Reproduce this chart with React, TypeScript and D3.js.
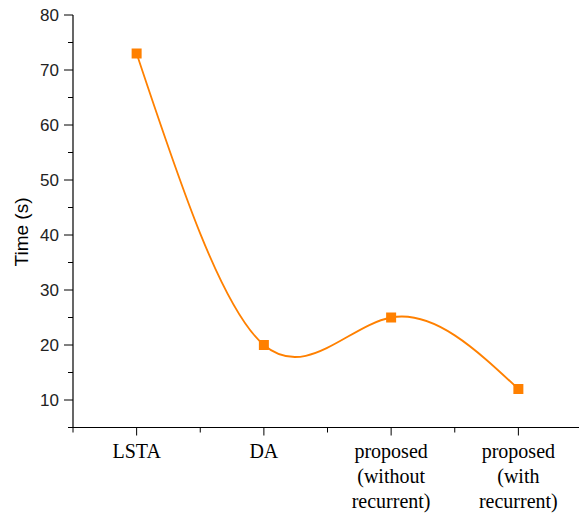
import React from 'react'
import * as d3 from 'd3'

const methods = ['LSTA', 'DA', 'proposed (without recurrent)', 'proposed (with recurrent)']
const methodLines = [['LSTA'], ['DA'], ['proposed', '(without', 'recurrent)'], ['proposed', '(with', 'recurrent)']]
const times = [73, 20, 25, 12]
const yTicks = [10, 20, 30, 40, 50, 60, 70, 80]
const yMinorTicks = [5, 15, 25, 35, 45, 55, 65, 75]
const xMinorTicks = [0.5, 1.5, 2.5, 3.5, 4.5]

const W = 579
const H = 515
const orange = '#ff8000'
const sans = "'Liberation Sans', Arial, sans-serif"
const serif = "'Liberation Serif', 'Times New Roman', serif"

export default function App() {
  const x = d3.scaleLinear().domain([0.5, 4.5]).range([73, 582])
  const y = d3.scaleLinear().domain([5, 80]).range([427.5, 15])

  const pts: [number, number][] = times.map((t, i) => [x(i + 1), y(t)])
  const line = d3.line().curve(d3.curveNatural)(pts) || ''

  return (
    <svg width={W} height={H} style={{ position: 'absolute', left: 0, top: 0, background: '#fff' }}>
      {/* axes */}
      <line x1={x(0.5)} x2={x(0.5)} y1={y(80)} y2={y(5)} stroke="#000" strokeWidth={1.2} />
      <line x1={x(0.5)} x2={W} y1={y(5)} y2={y(5)} stroke="#000" strokeWidth={1.2} />

      {yTicks.map(t => (
        <g key={t}>
          <line x1={x(0.5) - 9} x2={x(0.5)} y1={y(t)} y2={y(t)} stroke="#000" strokeWidth={1} />
          <text x={59} y={y(t)} dy="0.36em" textAnchor="end" fontFamily={sans} fontSize={17} fill="#222">{t}</text>
        </g>
      ))}
      {yMinorTicks.map(t => (
        <line key={t} x1={x(0.5) - 5} x2={x(0.5)} y1={y(t)} y2={y(t)} stroke="#000" strokeWidth={1} />
      ))}

      {methods.map((m, i) => (
        <g key={m}>
          <line x1={x(i + 1)} x2={x(i + 1)} y1={y(5)} y2={y(5) + 8} stroke="#000" strokeWidth={1} />
          {methodLines[i].map((s, j) => (
            <text key={j} x={x(i + 1)} y={458 + j * 25} textAnchor="middle" fontFamily={serif} fontSize={20} fill="#000">{s}</text>
          ))}
        </g>
      ))}
      {xMinorTicks.map(t => (
        <line key={t} x1={x(t)} x2={x(t)} y1={y(5)} y2={y(5) + 5} stroke="#000" strokeWidth={1} />
      ))}

      <text transform={`translate(28,232) rotate(-90)`} textAnchor="middle" fontFamily={sans} fontSize={19} fill="#000">Time (s)</text>

      <path d={line} fill="none" stroke={orange} strokeWidth={1.8} />
      {pts.map((p, i) => (
        <rect key={i} x={p[0] - 5} y={p[1] - 5} width={10} height={10} fill={orange} />
      ))}
    </svg>
  )
}
